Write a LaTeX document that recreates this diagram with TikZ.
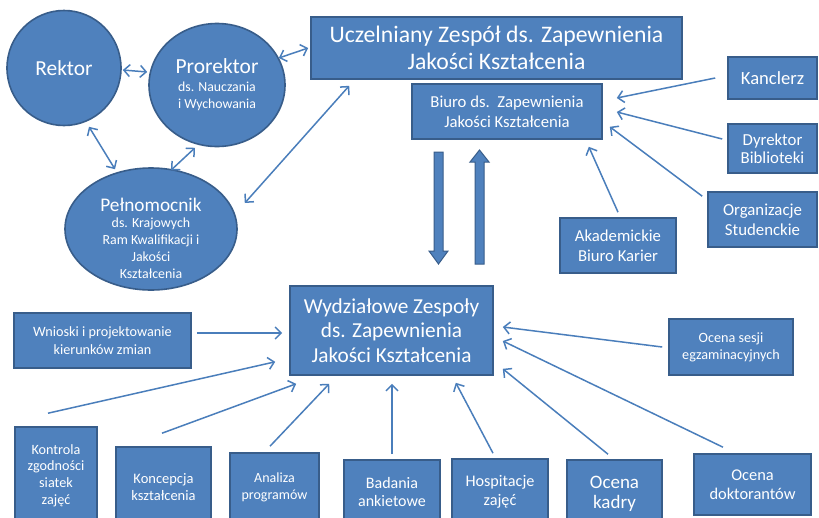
\documentclass[tikz,border=0pt]{standalone}
\usepackage{fontspec}
\setmainfont{Carlito}
\usetikzlibrary{arrows.meta,calc,shapes.geometric}
\definecolor{fillc}{HTML}{4F81BD}
\definecolor{bdr}{HTML}{385D8A}
\definecolor{arrc}{HTML}{4A7EBB}
\newcommand{\fs}[2]{\fontsize{#1}{#2}\selectfont}
\tikzset{
  box/.style={rectangle,draw=bdr,fill=fillc,line width=1.6pt,text=white,align=center,inner sep=0pt},
  oval/.style={ellipse,draw=bdr,fill=fillc,line width=1.6pt,text=white,align=center,inner sep=0pt},
  arr/.style={draw=arrc,line width=1.5pt,-{Straight Barb[length=6pt,width=12pt]}},
  darr/.style={draw=arrc,line width=1.5pt,{Straight Barb[length=6pt,width=12pt]}-{Straight Barb[length=6pt,width=12pt]}},
  blockarr/.style={draw=bdr,fill=fillc,line width=1pt,line join=miter}
}
\begin{document}
\begin{tikzpicture}[x=1pt,y=-1pt]
\useasboundingbox (0,0) rectangle (819,517);
\clip (0,0) rectangle (819,517);
\fill[white] (0,0) rectangle (819,517);

% circles
\node[oval,minimum width=114pt,minimum height=115pt,font=\fs{21.4}{25}] (rek) at (64,68) {Rektor};
\node[oval,minimum width=136pt,minimum height=123pt,font=\fs{13.8}{17.5}] (pro) at (217,85) {{\fs{21.5}{25}Prorektor}\\ds. Nauczania\\i Wychowania};
\node[oval,minimum width=172pt,minimum height=122pt] (pel) at (151,229) {};
\node[font=\fs{13.9}{16.8},text=white,align=center,inner sep=0pt] (pelt) at (151,238) {{\fs{19.3}{20}Pełnomocnik}\\ds. Krajowych\\Ram Kwalifikacji i\\Jakości\\Kształcenia};

% top boxes
\node[box,minimum width=371pt,minimum height=62pt,font=\fs{23.7}{27}] (ucz) at (496.5,48) {Uczelniany Zespół ds. Zapewnienia\\Jakości Kształcenia};
\node[box,minimum width=190pt,minimum height=55pt,font=\fs{16.7}{20}] (biu) at (507,111.5) {Biuro ds.\ \ Zapewnienia\\Jakości Kształcenia};
\node[box,minimum width=89pt,minimum height=42pt,font=\fs{18.6}{22}] (kan) at (772.5,78) {Kanclerz};
\node[box,minimum width=89pt,minimum height=49pt,font=\fs{16.8}{18.5}] (dyr) at (772.5,148.5) {Dyrektor\\Biblioteki};
\node[box,minimum width=109pt,minimum height=55pt,font=\fs{16.8}{20}] (org) at (762.5,219.5) {Organizacje\\Studenckie};
\node[box,minimum width=116pt,minimum height=55pt,font=\fs{16.7}{20}] (aka) at (618,245.5) {Akademickie\\Biuro Karier};

% middle
\node[box,minimum width=203pt,minimum height=89pt,font=\fs{21.3}{24.5}] (wyd) at (391.5,330.5) {Wydziałowe Zespoły\\ds. Zapewnienia\\Jakości Kształcenia};
\node[box,minimum width=124pt,minimum height=56pt,font=\fs{14.2}{17}] (ses) at (731,347) {Ocena sesji\\egzaminacyjnych};
\node[box,minimum width=177pt,minimum height=55pt,font=\fs{14.2}{18}] (wni) at (102.5,340.5) {Wnioski i projektowanie\\kierunków zmian};

% bottom boxes
\node[box,minimum width=82pt,minimum height=97pt,font=\fs{14.2}{16.7}] (kon) at (56,475.5) {Kontrola\\zgodności\\siatek\\zajęć};
\node[box,minimum width=95pt,minimum height=80pt,font=\fs{14.5}{17}] (kcp) at (163.5,487) {Koncepcja\\kształcenia};
\node[box,minimum width=89pt,minimum height=69pt,font=\fs{14}{17}] (ana) at (274.5,487.5) {Analiza\\programów};
\node[box,minimum width=96pt,minimum height=64pt,font=\fs{16}{18.5}] (bad) at (392,492) {Badania\\ankietowe};
\node[box,minimum width=96pt,minimum height=66pt,font=\fs{16.2}{19}] (hos) at (500,492) {Hospitacje\\zajęć};
\node[box,minimum width=95pt,minimum height=68pt,font=\fs{19}{19.5}] (kad) at (614.5,494) {Ocena\\kadry};
\node[box,minimum width=117pt,minimum height=61pt,font=\fs{16.4}{18.5}] (dok) at (752.5,484.5) {Ocena\\doktorantów};

% block arrows
\draw[blockarr] (434,152) -- (443,152) -- (443,251) -- (448,251) -- (438.5,264) -- (429,251) -- (434,251) -- cycle;
\draw[blockarr] (475,264) -- (484,264) -- (484,162) -- (489,162) -- (479.5,150) -- (470,162) -- (475,162) -- cycle;

% connectors
\draw[darr] ($(rek.east)+(1,2)$) -- ($(pro.west)+(-1,-13)$);
\draw[darr] ($(rek.south)+(25,0.5)$) -- ($(pel.north)+(-36,2)$);
\draw[darr] ($(pro.south)+(-22,0.5)$) -- ($(pel.north)+(20,3)$);
\draw[darr] ($(pro.east)+(-7,-27)$) -- ($(ucz.west)+(-2,0)$);
\draw[darr] ($(pel.east)+(7,-26)$) -- ($(ucz.south west)+(39,6)$);

\draw[arr] ($(kan.west)+(-12,0)$) -- ($(biu.east)+(14,-13.5)$);
\draw[arr] ($(dyr.west)+(-5,-9.5)$) -- ($(biu.east)+(14,0.5)$);
\draw[arr] ($(org.north west)+(-5,5)$) -- ($(biu.south east)+(7,-13)$);
\draw[arr] ($(aka.north)+(0,-5)$) -- ($(biu.south east)+(-14,7)$);

\draw[arr] ($(wni.east)+(5,-7.5)$) -- ($(wyd.west)+(-7,2.5)$);
\draw[arr] ($(kon.north)+(-8,-13)$) -- ($(wyd.south west)+(-14,-14)$);
\draw[arr] ($(kcp.north)+(-1.5,-13)$) -- ($(wyd.south west)+(7,8)$);
\draw[arr] ($(ana.north)+(-4.5,-6)$) -- ($(wyd.south west)+(40,8)$);
\draw[arr] ($(bad.north)+(0,-5)$) -- ($(wyd.south)+(0.5,8)$);
\draw[arr] ($(hos.north)+(-7,-5)$) -- ($(wyd.south east)+(-38,7)$);
\draw[arr] ($(kad.north)+(-6.5,-5)$) -- ($(wyd.south east)+(9,-7)$);
\draw[arr] ($(dok.north)+(-29.5,-6)$) -- ($(wyd.east)+(9,10.5)$);
\draw[arr] ($(ses.west)+(-6,0)$) -- ($(wyd.east)+(9,-3.5)$);
\end{tikzpicture}
\end{document}
